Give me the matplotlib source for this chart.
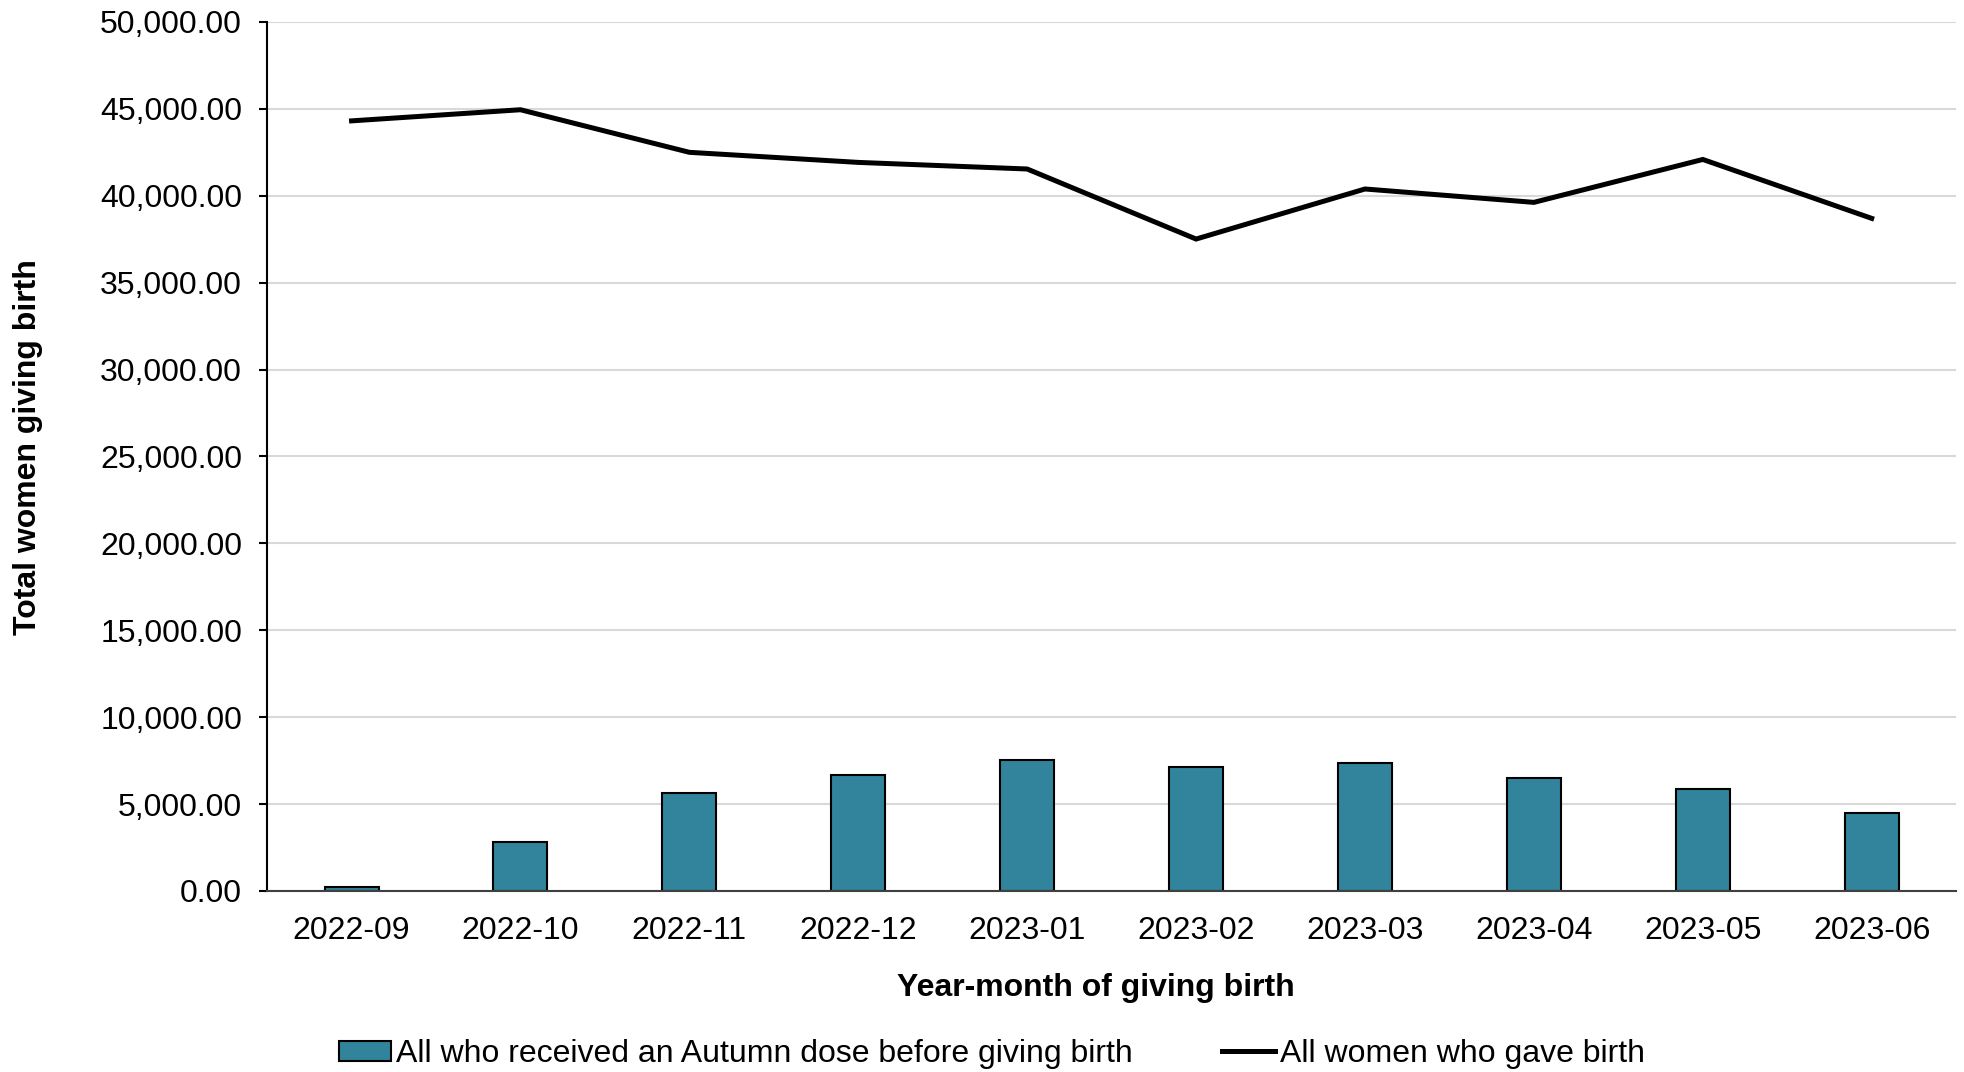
import matplotlib
matplotlib.use("Agg")
import matplotlib.pyplot as plt
from matplotlib.ticker import FuncFormatter, MultipleLocator

plt.rcParams['font.family'] = ['Liberation Sans', 'DejaVu Sans']

# monthly figures
months = ["2022-09", "2022-10", "2022-11", "2022-12", "2023-01",
          "2023-02", "2023-03", "2023-04", "2023-05", "2023-06"]
autumn_dose = [210, 2800, 5620, 6690, 7510, 7110, 7380, 6510, 5860, 4470]
all_births = [44310, 44950, 42500, 41920, 41540, 37510, 40390, 39620, 42090, 38700]

bar_label = "All who received an Autumn dose before giving birth"
line_label = "All women who gave birth"

fs = 23

fig = plt.figure(figsize=(19.64, 10.72), dpi=100)
ax = fig.add_axes([0.136, 0.1689, 0.86, 0.8106])

x = list(range(len(months)))
bars = ax.bar(x, autumn_dose, width=0.32, color='#31849B', edgecolor='black',
              linewidth=1.5, zorder=2)
line, = ax.plot(x, all_births, color='black', linewidth=3.6, zorder=3,
                solid_joinstyle='miter')

ax.set_xlim(-0.5, len(months) - 0.5)
ax.set_ylim(0, 50000)
ax.yaxis.set_major_locator(MultipleLocator(5000))
ax.yaxis.set_major_formatter(FuncFormatter(lambda v, p: f"{v:,.2f}"))
ax.set_xticks(x)
ax.set_xticklabels(months)

ax.grid(axis='y', color='#D9D9D9', linewidth=1.5, zorder=0)
ax.set_axisbelow(True)
for side in ['top', 'right']:
  ax.spines[side].set_visible(False)
ax.spines['left'].set_linewidth(1.5)
ax.spines['bottom'].set_linewidth(1.5)
ax.spines['bottom'].set_color('#404040')

ax.tick_params(axis='y', length=6, width=1.5, pad=12, labelsize=fs)
ax.tick_params(axis='x', length=0, pad=18, labelsize=fs)

fig.text(28 / 1964, 1 - 447 / 1072, "Total women giving birth", rotation=90,
         ha='center', va='center', fontsize=fs, fontweight='bold')
fig.text(1096 / 1964, 1 - 988 / 1072, "Year-month of giving birth",
         ha='center', va='center', fontsize=fs, fontweight='bold')

fig.legend([bars, line], [bar_label, line_label], loc='center',
           bbox_to_anchor=(0.505, 1 - 1054 / 1072), ncol=2,
           frameon=False, fontsize=fs, handlelength=1.65, handleheight=0.6,
           handletextpad=0.15, columnspacing=2.8, borderaxespad=0)

fig.savefig("out.png", dpi=100)
